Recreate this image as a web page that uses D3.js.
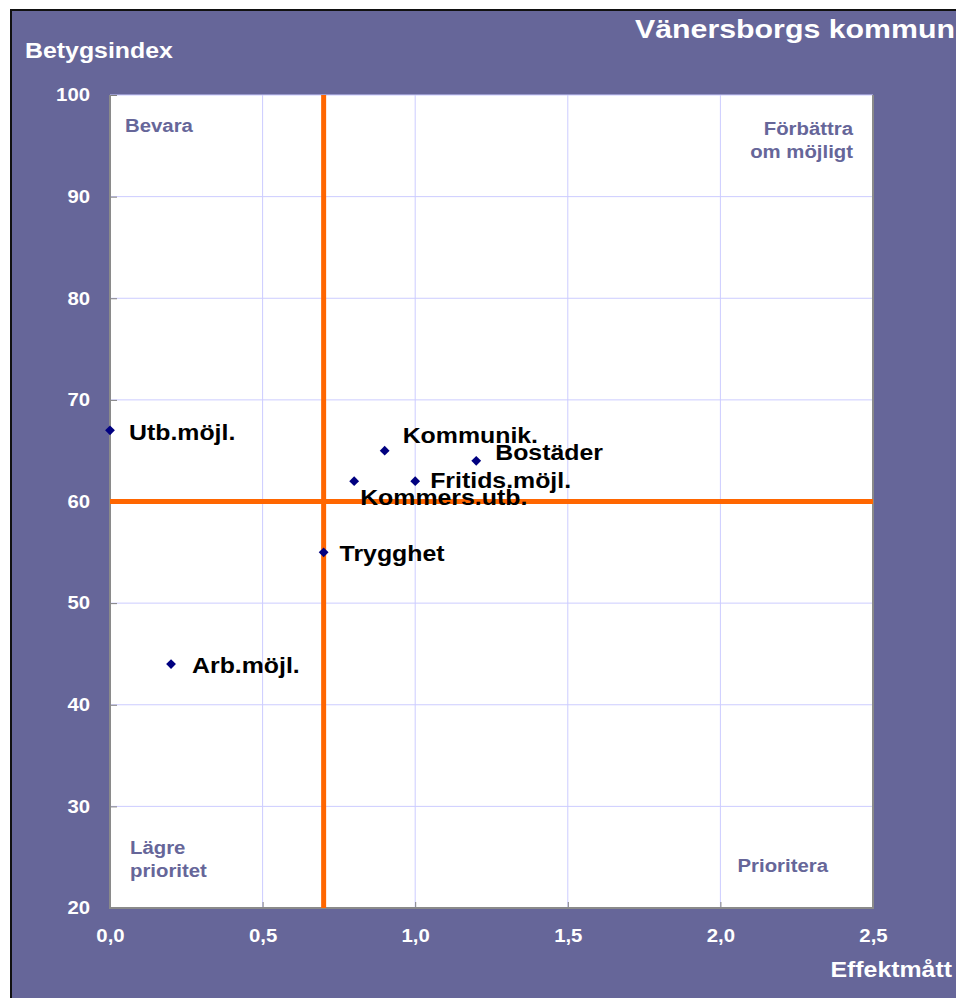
<!DOCTYPE html>
<meta charset="utf-8">
<style>
body { margin: 0; background: #fff; }
text { font-family: "Liberation Sans", Arial, sans-serif; font-weight: bold; }
.tick text { fill: #fff; font-size: 18px; }
.lbl { fill: #000; font-size: 22px; }
.quad { fill: #666699; font-size: 18px; }
</style>
<body>
<script src="https://cdn.jsdelivr.net/npm/d3@7"></script>
<script>
// data
var names  = ["Utb.möjl.", "Arb.möjl.", "Trygghet", "Kommers.utb.", "Kommunik.", "Fritids.möjl.", "Bostäder"];
var effekt = [0.0, 0.2, 0.7, 0.8, 0.9, 1.0, 1.2];
var betyg  = [67, 44, 55, 62, 65, 62, 64];
var xTicks = [0, 0.5, 1.0, 1.5, 2.0, 2.5];
var yTicks = [20, 30, 40, 50, 60, 70, 80, 90, 100];
var xCut = 0.7, yCut = 60;

// label placement, px from the marker
var labelOffset = {
  "Utb.möjl.": [19, 10], "Arb.möjl.": [21, 9], "Trygghet": [16, 9],
  "Kommers.utb.": [6, 24], "Kommunik.": [18, -8], "Fritids.möjl.": [15, 7],
  "Bostäder": [19, -1]
};

var width = 956, height = 998;
var plot = {left: 110, right: 873, top: 95, bottom: 908};

var svg = d3.select("body").append("svg")
    .attr("width", width)
    .attr("height", height);

// stretch text horizontally like the source picture
function stretch(sel, k) {
  sel.each(function() {
    var len = this.getComputedTextLength();
    d3.select(this).attr("textLength", len * k).attr("lengthAdjust", "spacingAndGlyphs");
  });
}

svg.append("rect")
    .attr("x", 11).attr("y", 10)
    .attr("width", width).attr("height", height)
    .attr("fill", "#666699")
    .attr("stroke", "#111").attr("stroke-width", 2);

var x = d3.scaleLinear().domain([0, 2.5]).range([plot.left, plot.right]);
var y = d3.scaleLinear().domain([20, 100]).range([plot.bottom, plot.top]);

svg.append("rect")
    .attr("x", plot.left).attr("y", plot.top)
    .attr("width", plot.right - plot.left)
    .attr("height", plot.bottom - plot.top)
    .attr("fill", "#fff");

// grid
svg.append("g").selectAll("line")
  .data(xTicks.slice(1, -1))
  .enter().append("line")
    .attr("x1", d => x(d)).attr("x2", d => x(d))
    .attr("y1", plot.top).attr("y2", plot.bottom)
    .attr("stroke", "#ccccff");
svg.append("g").selectAll("line")
  .data(yTicks.slice(1))
  .enter().append("line")
    .attr("x1", plot.left).attr("x2", plot.right)
    .attr("y1", d => y(d)).attr("y2", d => y(d))
    .attr("stroke", "#ccccff");

// quadrant labels
var quads = [
  {t: ["Bevara"], x: 125, y: 132, a: "start"},
  {t: ["Förbättra", "om möjligt"], x: 853, y: 135, a: "end"},
  {t: ["Lägre", "prioritet"], x: 130, y: 854, a: "start"},
  {t: ["Prioritera"], x: 828, y: 872, a: "end"}
];
quads.forEach(function(q) {
  q.t.forEach(function(s, i) {
    svg.append("text").attr("class", "quad")
      .attr("x", q.x).attr("y", q.y + i * 23)
      .attr("text-anchor", q.a)
      .text(s);
  });
});

// axes
var yAxis = svg.append("g")
    .attr("transform", "translate(" + plot.left + ",0)")
    .call(d3.axisRight(y).tickValues(yTicks).tickSize(7).tickPadding(-26));
yAxis.selectAll("text").attr("text-anchor", "end").attr("x", -20);
var xAxis = svg.append("g")
    .attr("transform", "translate(0," + plot.bottom + ")")
    .call(d3.axisTop(x).tickValues(xTicks).tickSize(6)
      .tickFormat(d => d3.format(".1f")(d).replace(".", ",")));
xAxis.selectAll(".tick text").attr("y", 34);
svg.selectAll(".domain").remove();
svg.selectAll(".tick line").attr("stroke", "#808080");

svg.append("path")
    .attr("d", "M" + plot.left + "," + plot.top + "V" + plot.bottom + "H" + plot.right + "V" + plot.top)
    .attr("fill", "none").attr("stroke", "#8a8a8a").attr("stroke-width", 2);

// cut lines
svg.append("line")
    .attr("x1", x(xCut)).attr("x2", x(xCut))
    .attr("y1", plot.top).attr("y2", plot.bottom)
    .attr("stroke", "#ff6600").attr("stroke-width", 5);
svg.append("line")
    .attr("x1", plot.left).attr("x2", plot.right)
    .attr("y1", y(yCut)).attr("y2", y(yCut))
    .attr("stroke", "#ff6600").attr("stroke-width", 5);

// points
var pts = names.map((n, i) => ({name: n, x: effekt[i], y: betyg[i]}));
svg.append("g").selectAll("path")
  .data(pts)
  .enter().append("path")
    .attr("d", d3.symbol(d3.symbolSquare, 48))
    .attr("transform", d => "translate(" + x(d.x) + "," + y(d.y) + ")rotate(45)")
    .attr("fill", "#000080");
svg.append("g").selectAll("text")
  .data(pts)
  .enter().append("text")
    .attr("class", "lbl")
    .attr("x", d => x(d.x) + labelOffset[d.name][0])
    .attr("y", d => y(d.y) + labelOffset[d.name][1])
    .text(d => d.name);

// titles
svg.append("text")
    .attr("x", 25).attr("y", 58)
    .attr("fill", "#fff").attr("font-size", 22)
    .text("Betygsindex");
svg.append("text")
    .attr("x", 952).attr("y", 977)
    .attr("text-anchor", "end")
    .attr("fill", "#fff").attr("font-size", 22)
    .text("Effektmått");
var title = svg.append("text")
    .attr("x", 635).attr("y", 38)
    .attr("fill", "#fff").attr("font-size", 25)
    .text("Vänersborgs kommun");

stretch(svg.selectAll("text").filter(function() { return this !== title.node(); }), 1.13);
title.attr("textLength", 320).attr("lengthAdjust", "spacingAndGlyphs");
</script>
</body>
